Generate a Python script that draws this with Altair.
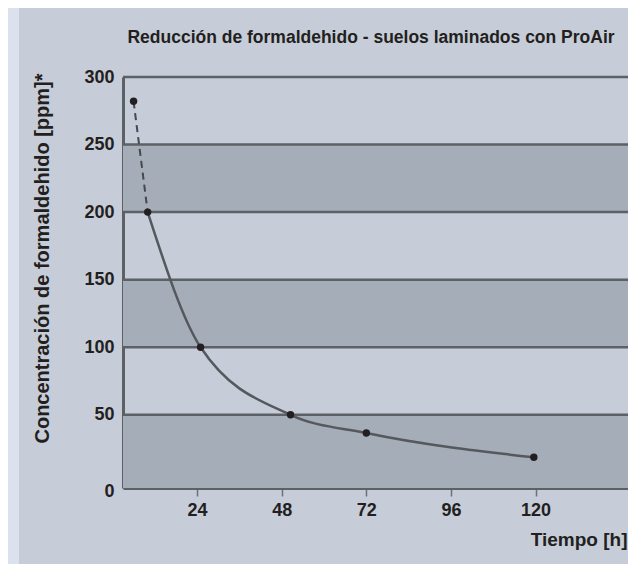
import altair as alt
import pandas as pd

# ---- data ----
hours = [6, 10, 25, 50.5, 72, 119.5]
ppm = [282, 200, 100, 50, 36.5, 18.5]
band_lo = [-4.2, 100, 200]
band_hi = [50, 150, 250]
grid_vals = [50, 100, 150, 200, 250, 300]
y_ticks = [0, 50, 100, 150, 200, 250, 300]
x_ticks = [24, 48, 72, 96, 120]
x_domain = [3, 146.2]
y_domain = [-4.2, 300]

title_text = "Reducción de formaldehido - suelos laminados con ProAir"
y_title = "Concentración de formaldehido [ppm]*"
x_title = "Tiempo [h]"

# ---- styling ----
W, H = 505, 411
FONT = "Liberation Sans"
TXT = "#231f20"
LINE = "#5d6064"
PANEL = "#c6cdd8"
BAND = "#a5adb8"
OUTER = "#dbe2ee"

pts = pd.DataFrame({"h": hours, "ppm": ppm})
dashed = pts.iloc[:2]
solid = pts.iloc[1:]
bands = pd.DataFrame({"lo": band_lo, "hi": band_hi})
grid = pd.DataFrame({"g": grid_vals})
ttl = pd.DataFrame({"t": [title_text]})

xs = alt.Scale(domain=x_domain, nice=False, zero=False)
ys = alt.Scale(domain=y_domain, nice=False, zero=False)

x_axis = alt.Axis(
    values=x_ticks, grid=False, domain=True, domainColor=LINE, domainWidth=3,
    ticks=True, tickSize=8, tickWidth=1.5, tickColor="#6d7074",
    labelFont=FONT, labelFontSize=18, labelFontWeight="bold", labelColor=TXT,
    labelPadding=5,
    title=x_title, titleFont=FONT, titleFontSize=19, titleFontWeight="bold",
    titleColor=TXT, titleAlign="right", titleBaseline="alphabetic",
    titleX=W - 1, titleY=57, titleAngle=0,
)
y_axis = alt.Axis(
    values=y_ticks, grid=False, domain=True, domainColor=LINE, domainWidth=3,
    ticks=False, labelFont=FONT, labelFontSize=18, labelFontWeight="bold",
    labelColor=TXT, labelPadding=9,
    labelBaseline=alt.condition("datum.value == 0", alt.value("top"), alt.value("middle")),
    title=y_title, titleFont=FONT, titleFontSize=20, titleFontWeight="bold",
    titleColor=TXT, titleAngle=270, titleAlign="right", titleBaseline="middle",
    titleX=-81, titleY=-4,
)

strip = alt.Chart(pd.DataFrame({"a": [0]})).mark_rect(color=OUTER).encode(
    x=alt.value(-115), x2=alt.value(-104), y=alt.value(-69), y2=alt.value(H + 90)
)

title_layer = alt.Chart(ttl).mark_text(
    font=FONT, fontSize=17.5, fontWeight="bold", color=TXT,
    align="center", baseline="alphabetic"
).encode(text="t:N", x=alt.value(248), y=alt.value(-34))

band_layer = alt.Chart(bands).mark_rect(color=BAND).encode(
    x=alt.value(0), x2=alt.value(W),
    y=alt.Y("lo:Q", scale=ys, axis=y_axis), y2="hi:Q",
)

grid_layer = alt.Chart(grid).mark_rule(color=LINE, strokeWidth=2.5).encode(
    x=alt.value(0), x2=alt.value(W), y=alt.Y("g:Q", scale=ys)
)

dash_layer = alt.Chart(dashed).mark_line(color="#45484c", strokeWidth=2, strokeDash=[7, 5]).encode(
    x=alt.X("h:Q", scale=xs, axis=x_axis), y=alt.Y("ppm:Q", scale=ys)
)
solid_layer = alt.Chart(solid).mark_line(color="#55585c", strokeWidth=2.5, interpolate="monotone").encode(
    x=alt.X("h:Q", scale=xs), y=alt.Y("ppm:Q", scale=ys)
)
dots = alt.Chart(pts).mark_circle(color=TXT, size=55, opacity=1).encode(
    x=alt.X("h:Q", scale=xs), y=alt.Y("ppm:Q", scale=ys)
)

chart = alt.layer(strip, title_layer, band_layer, grid_layer, dash_layer, solid_layer, dots).properties(
    width=W, height=H,
    autosize=alt.AutoSizeParams(type="none"),
    padding={"left": 115, "top": 69, "right": 0, "bottom": 76},
    background=PANEL,
).configure_view(stroke=None)

chart.save("out.html", embed_options={"renderer": "svg", "actions": False})
